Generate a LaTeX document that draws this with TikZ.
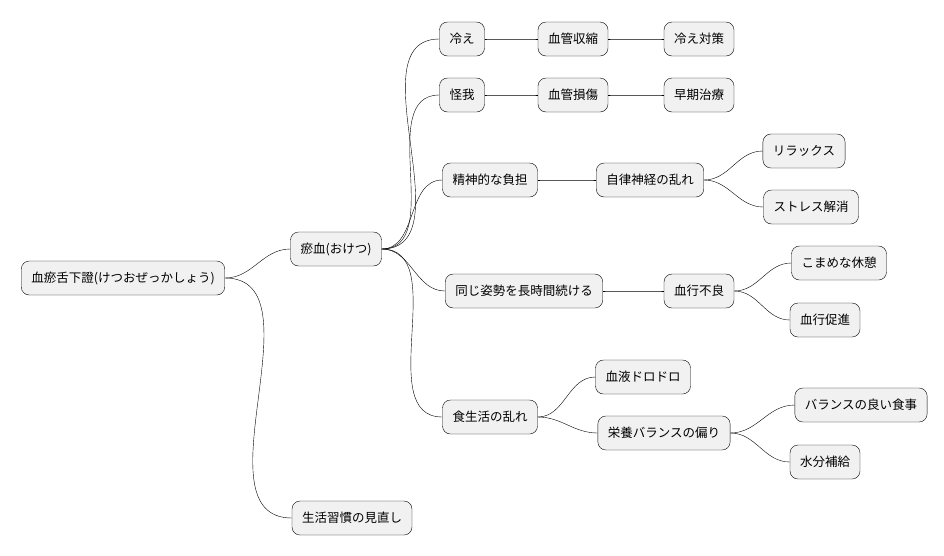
\documentclass[tikz,border=0pt]{standalone}
\usepackage{fontspec}
\setmainfont{Noto Sans CJK JP}
\definecolor{boxfill}{HTML}{F1F1F1}
\tikzset{
	topic/.style={draw,rounded corners=8pt,fill=boxfill,minimum height=34pt,
		inner xsep=10pt,font=\fontsize{12.5}{15}\selectfont},
	branch/.style={out=0,in=180}
}
\begin{document}
\begin{tikzpicture}[x=1pt,y=-1pt]
            \useasboundingbox (0,0) rectangle (944,555);
            \node [topic] (root) at (123,278) {血瘀舌下證(けつおぜっかしょう)};
            \node [topic] (oketsu) at (336,249) {瘀血(おけつ)};
            \node [topic] (seikatsu) at (352,518) {生活習慣の見直し};
            \node [topic] (hie) at (462,39) {冷え};
            \node [topic] (shuku) at (573,39) {血管収縮};
            \node [topic] (taisaku) at (699,39) {冷え対策};
            \node [topic] (kega) at (462,95) {怪我};
            \node [topic] (sonsho) at (573,95) {血管損傷};
            \node [topic] (soki) at (699,95) {早期治療};
            \node [topic] (seishin) at (490,180) {精神的な負担};
            \node [topic] (jiritsu) at (650,180) {自律神経の乱れ};
            \node [topic] (relax) at (804,151) {リラックス};
            \node [topic] (stress) at (811,207) {ストレス解消};
            \node [topic] (shisei) at (524,291) {同じ姿勢を長時間続ける};
            \node [topic] (furyo) at (699,291) {血行不良};
            \node [topic] (kyukei) at (839,263) {こまめな休憩};
            \node [topic] (sokushin) at (825,320) {血行促進};
            \node [topic] (shoku) at (490,417) {食生活の乱れ};
            \node [topic] (doro) at (643,377) {血液ドロドロ};
            \node [topic] (eiyo) at (664,433) {栄養バランスの偏り};
            \node [topic] (yoi) at (861,405) {バランスの良い食事};
            \node [topic] (suibun) at (825,462) {水分補給};
            % connectors
            \foreach \a/\b in {root/oketsu,root/seikatsu,oketsu/hie,oketsu/kega,oketsu/seishin,
              oketsu/shisei,oketsu/shoku,hie/shuku,shuku/taisaku,kega/sonsho,sonsho/soki,
              seishin/jiritsu,jiritsu/relax,jiritsu/stress,shisei/furyo,furyo/kyukei,
              furyo/sokushin,shoku/doro,shoku/eiyo,eiyo/yoi,eiyo/suibun}
              \draw (\a.east) to[branch] (\b.west);
\end{tikzpicture}
\end{document}
